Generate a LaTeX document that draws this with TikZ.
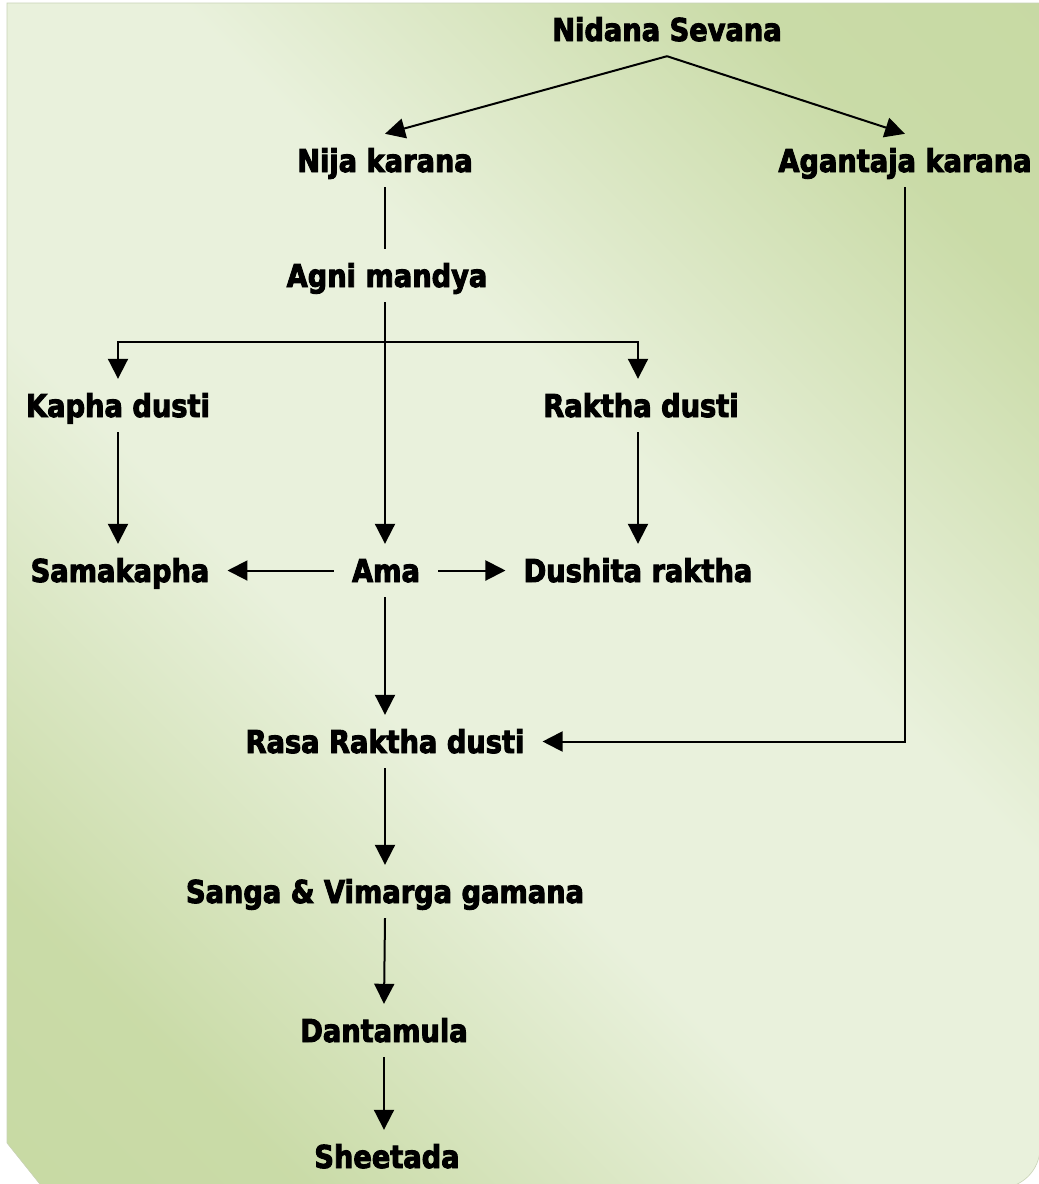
\documentclass[tikz,border=0pt]{standalone}
\usepackage{fontspec}
\newfontfamily\dfont{DejaVu Sans}[BoldFont={DejaVu Sans Bold}, BoldFeatures={FakeStretch=0.865, FakeBold=3}, FakeStretch=0.865]
\usetikzlibrary{arrows.meta}
\definecolor{bglight}{HTML}{E9F1DC}
\definecolor{bgdark}{HTML}{C4D79E}
\definecolor{bgedge}{HTML}{C9D3B6}
\pgfdeclarehorizontalshading{bgshade}{100bp}{color(0bp)=(bgdark); color(24bp)=(bgdark!85!bglight); color(42bp)=(bglight); color(58bp)=(bglight); color(76bp)=(bgdark!85!bglight); color(100bp)=(bgdark)}
\begin{document}
\begin{tikzpicture}[x=1pt,y=-1pt,
  lbl/.style={font={\dfont\bfseries\fontsize{31.5}{37}\selectfont}, text height=29pt, text depth=6pt, inner ysep=9pt, inner xsep=18pt, anchor=base},
  conn/.style={line width=2pt, black},
  arr/.style={conn, -{Triangle[length=20pt,width=20pt]}}]
\useasboundingbox (0,0) rectangle (1039,1184);
\fill[white] (0,0) rectangle (1039,1184);
\shade[shading=bgshade, shading angle=45, draw=bgedge, line width=0.6pt]
  (7,3) -- (1040,3) -- (1040,1148) .. controls (1040,1170) and (1022,1188) .. (1000,1188) -- (43,1188) -- (7,1143) -- cycle;

\node[lbl] (nidana) at (667,41) {Nidana Sevana};
\node[lbl] (nija) at (385,172) {Nija karana};
\node[lbl] (agan) at (905,172) {Agantaja karana};
\node[lbl] (agni) at (387,287) {Agni mandya};
\node[lbl] (kapha) at (118,417) {Kapha dusti};
\node[lbl] (raktha) at (641,417) {Raktha dusti};
\node[lbl] (sama) at (120,582) {Samakapha};
\node[lbl] (ama) at (386,582) {Ama};
\node[lbl] (dush) at (638,582) {Dushita raktha};
\node[lbl] (rasa) at (385,753) {Rasa Raktha dusti};
\node[lbl] (sanga) at (385,903) {Sanga \& Vimarga gamana};
\node[lbl] (danta) at (384,1042) {Dantamula};
\node[lbl] (sheet) at (387,1168) {Sheetada};

\coordinate (br) at (385,342);

\draw[arr] (nidana.south) -- (nija.north);
\draw[arr] (nidana.south) -- (agan.north);
\draw[conn] (nija.south) -- (nija.south |- agni.north);
\draw[arr] (agni.south -| br) -- (ama.north -| br);
\draw[arr] (br) -| (kapha.north);
\draw[arr] (br) -| (raktha.north -| dush);
\draw[arr] (kapha.south) -- (kapha.south |- sama.north);
\draw[arr] (raktha.south -| dush) -- (dush.north);
\draw[arr] (ama.west) -- (sama.east);
\draw[arr] (ama.east) -- (dush.west);
\draw[arr] (ama.south -| br) -- (rasa.north -| br);
\draw[arr] (agan.south) |- (rasa.east);
\draw[arr] (rasa.south) -- (sanga.north);
\draw[arr] (sanga.south) -- (danta.north);
\draw[arr] (danta.south) -- (danta.south |- sheet.north);
\end{tikzpicture}
\end{document}
